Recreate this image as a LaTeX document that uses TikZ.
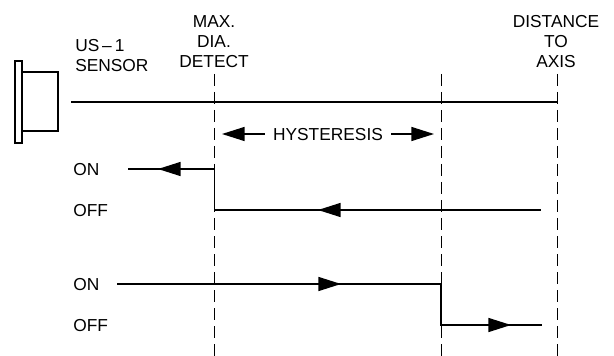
\documentclass[tikz,border=0pt]{standalone}
\usepackage{fontspec}
\setmainfont{Liberation Sans}
\usetikzlibrary{arrows.meta}
\tikzset{
	sigline/.style = {line width = 1.3pt, line join = miter},
	sighead/.style = {line width = 1.1pt, -{Triangle[length = 17pt, width = 10.5pt]}},
	guideline/.style = {line width = .7pt, dash pattern = on 9pt off 4.5pt},
	sensorline/.style = {line width = .9pt},
	lbl/.style = {font = \fontsize{13}{15}\selectfont, align = center, inner sep = 0pt},
	lblwest/.style = {lbl, align = left, anchor = west}
}
\begin{document}
\begin{tikzpicture}[x = .75pt, y = -.75pt]
	\useasboundingbox (0,0) rectangle (614,356);
	% sensor
	\draw[sensorline] (15,61) rectangle (22,143);
	\draw[sensorline] (22,72) -- (58,72) -- (58,131) -- (22,131);
	% vertical guides
	\foreach \nm/\xd in {max/214.5, hys/441, axis/557} {
		\coordinate (\nm top) at (\xd,74);
		\coordinate (\nm bot) at (\xd,356);
		\draw[guideline] (\nm top) -- (\nm bot);
	}
	% labels
	\node[lbl] (maxlbl) at (214,41.5) {MAX.\\DIA.\\DETECT};
	\node[lbl] (axislbl) at (556,41.5) {DISTANCE\\TO\\AXIS};
	\node[lblwest] (senslbl) at (75,56) {US\,--\,1\\SENSOR};
	\node[lblwest] (on1) at (73,170) {ON};
	\node[lblwest] (off1) at (73,210.5) {OFF};
	\node[lblwest] (on2) at (73,285) {ON};
	\node[lblwest] (off2) at (73,325.5) {OFF};
	\node[lbl, inner xsep = 6pt] (hyst) at (328,135) {HYSTERESIS};
	% sensor axis
	\coordinate (axisa) at (71,102);
	\coordinate (axisb) at (557,102);
	\draw[sigline] (axisa) -- (axisb);
	% hysteresis span
	\coordinate (hystl) at (222,134);
	\coordinate (hystr) at (434,134);
	\draw[sighead] (hyst.west |- hystl) -- (hystl);
	\draw[sighead] (hyst.east |- hystr) -- (hystr);
	% upper trace
	\coordinate (ua) at (128,169);
	\coordinate (ub) at (214.5,169);
	\coordinate (uc) at (214.5,210);
	\coordinate (ud) at (541,210);
	\draw[sigline] (ua) -- (ub) -- (uc) -- (ud);
	\coordinate (uh1) at (190,169);
	\coordinate (ut1) at (158,169);
	\coordinate (uh2) at (350,210);
	\coordinate (ut2) at (318,210);
	\draw[sighead] (uh1) -- (ut1);
	\draw[sighead] (uh2) -- (ut2);
	% lower trace
	\coordinate (la) at (117,284);
	\coordinate (lb) at (441,284);
	\coordinate (lc) at (441,325);
	\coordinate (ld) at (542,325);
	\draw[sigline] (la) -- (lb) -- (lc) -- (ld);
	\coordinate (lh1) at (310,284);
	\coordinate (lt1) at (341,284);
	\coordinate (lh2) at (480,325);
	\coordinate (lt2) at (511,325);
	\draw[sighead] (lh1) -- (lt1);
	\draw[sighead] (lh2) -- (lt2);
\end{tikzpicture}
\end{document}
